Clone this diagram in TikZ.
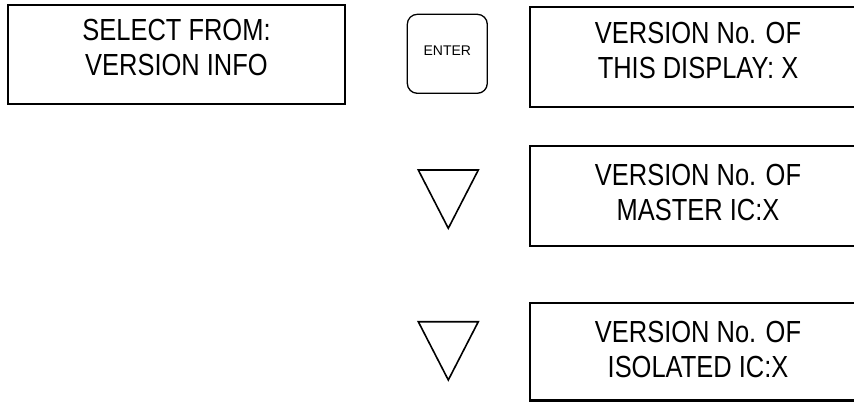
\documentclass[tikz,border=0pt]{standalone}
\usepackage{fontspec}
\newfontfamily\narrowfont[FakeStretch=0.835]{Liberation Sans}
\newfontfamily\keyfont{Liberation Sans}
\tikzset{
  lcd/.style={draw=black, line width=2.2pt, rectangle, inner sep=0pt},
  lcdtext/.style={inner sep=0pt, align=center, anchor=base,
    font=\narrowfont\fontsize{30.5}{35}\selectfont},
  keybox/.style={draw=black, line width=1.3pt, rectangle, rounded corners=10pt, inner sep=0pt,
    minimum width=80pt, minimum height=79pt},
  keytext/.style={inner sep=0pt, anchor=base, font=\keyfont\fontsize{14}{16}\selectfont},
  tri/.style={draw=black, line width=1.6pt, line join=miter}
}
\begin{document}
\begin{tikzpicture}[x=1pt,y=-1pt]
\useasboundingbox (0,0) rectangle (854,402);
\begin{scope}
\clip (0,0) rectangle (854,402);
% left display
\node[lcd, minimum width=337pt, minimum height=99pt] (sel) at (176.5,54.5) {};
\node[lcdtext] (seltext) at (176.5,75) {SELECT FROM:\\VERSION INFO};
% enter key
\node[keybox] (enter) at (447.3,53.8) {};
\node[keytext] (entertext) at (447.3,55) {ENTER};
% right displays
\node[lcd, minimum width=350pt, minimum height=100pt] (d1) at (705,57) {};
\node[lcdtext] (d1text) at (698,78.3) {VERSION No. OF\\THIS DISPLAY: X};
\node[lcd, minimum width=350pt, minimum height=100pt] (d2) at (705,196) {};
\node[lcdtext] (d2text) at (698,220.5) {VERSION No. OF\\MASTER IC:X};
\node[lcd, minimum width=350pt, minimum height=97.5pt] (d3) at (705,351.75) {};
\node[lcdtext] (d3text) at (698,377) {VERSION No. OF\\ISOLATED IC:X};
\end{scope}
% down keys
\coordinate (t1a) at (418.3,170);
\coordinate (t1b) at (478.3,170);
\coordinate (t1c) at (448.3,228.3);
\draw[tri] (t1a) -- (t1b) -- (t1c) -- cycle;
\coordinate (t2a) at (418.3,321.7);
\coordinate (t2b) at (478.3,321.7);
\coordinate (t2c) at (448.3,380);
\draw[tri] (t2a) -- (t2b) -- (t2c) -- cycle;
\end{tikzpicture}
\end{document}
